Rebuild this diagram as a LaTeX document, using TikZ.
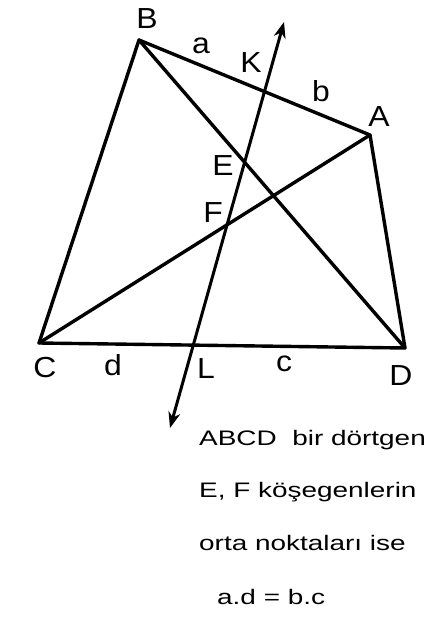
\documentclass[tikz,border=0pt]{standalone}
\usepackage{fontspec}
\setmainfont{Liberation Sans}
\newfontfamily\widefont[FakeStretch=1.33]{Liberation Sans}
\newfontfamily\lblfont[FakeStretch=1.1]{Liberation Sans}
\usetikzlibrary{arrows.meta,calc}

\begin{document}
\begin{tikzpicture}[
    x=1pt, y=-1pt,
    edge/.style={line width=3.4pt, line join=round, line cap=round},
    arr/.style={{Stealth[length=16pt,width=12pt]}-{Stealth[length=16pt,width=12pt]}, line width=3pt},
    lbl/.style={font=\lblfont\fontsize{29}{29}\selectfont, inner sep=0pt},
    txt/.style={font=\widefont\fontsize{21}{22}\selectfont, inner sep=0pt, anchor=west}
]
\useasboundingbox (0,0) rectangle (434,624);

% vertices of the quadrilateral
\coordinate (A) at (370,135);
\coordinate (B) at (139,40);
\coordinate (C) at (39,343);
\coordinate (D) at (405,348);
% ends of the line through E and F
\coordinate (top) at (284,22);
\coordinate (bot) at (170,428);

\draw[edge] (B) -- (A) -- (D) -- (C) -- cycle;
\draw[edge] (B) -- (D);
\draw[edge] (C) -- (A);
\draw[arr] (bot) -- (top);

\node[lbl] (lB) at (147,19) {B};
\node[lbl] (lA) at (379,117) {A};
\node[lbl] (lC) at (45,368) {C};
\node[lbl] (lD) at (401,376) {D};
\node[lbl] (la) at (201,46) {a};
\node[lbl] (lK) at (251,63) {K};
\node[lbl] (lb) at (321,91) {b};
\node[lbl] (lE) at (223,166) {E};
\node[lbl] (lF) at (213,213) {F};
\node[lbl] (ld) at (113,365) {d};
\node[lbl] (lL) at (206,369) {L};
\node[lbl] (lc) at (284,364) {c};

\node[txt] (t1) at (199,440) {ABCD\ \ bir dörtgen};
\node[txt] (t2) at (199,492) {E, F köşegenlerin};
\node[txt] (t3) at (199,543) {orta noktaları ise};
\node[txt] (t4) at (217,597) {a.d = b.c};
\end{tikzpicture}
\end{document}
